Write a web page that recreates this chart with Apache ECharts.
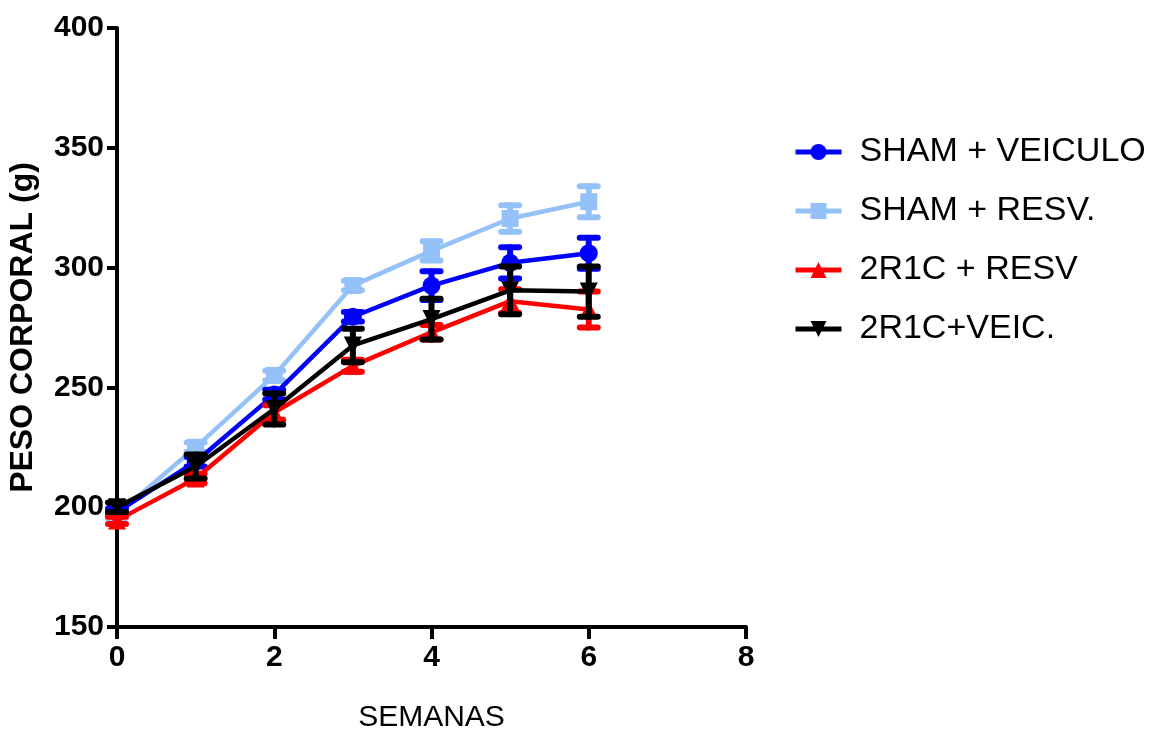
<!DOCTYPE html>
<html>
<head>
<meta charset="utf-8">
<script src="https://cdn.jsdelivr.net/npm/echarts@6/dist/echarts.min.js"></script>
<style>html,body{margin:0;padding:0;background:#fff;}#c{width:1157px;height:738px;}</style>
</head>
<body>
<div id="c"></div>
<script>
var weeks = [0, 1, 2, 3, 4, 5, 6];
var seriesNames = ['SHAM + VEICULO', 'SHAM + RESV.', '2R1C + RESV', '2R1C+VEIC.'];
var shamVeic = [198, 219, 247, 279.5, 292.5, 302, 306];
var shamVeicErr = [1.5, 2, 2, 2, 6, 6.5, 6.5];
var shamResv = [197, 225, 255, 292.5, 307, 320.5, 327.5];
var shamResvErr = [1.5, 2, 2, 2, 4, 5.5, 6.5];
var r2Resv = [194.5, 212, 239.5, 259, 273, 286, 282.5];
var r2ResvErr = [1.5, 2, 3, 2.5, 3, 5, 7.5];
var r2Veic = [200, 217, 241, 267.5, 278.5, 290.5, 290];
var r2VeicErr = [2, 5, 6.5, 7, 8.5, 10, 10.5];
var yTicks = [150, 200, 250, 300, 350, 400];
var xTicks = [0, 2, 4, 6, 8];

var colors = ['#0000ff', '#94c2f8', '#ff0000', '#000000'];
var symbols = ['circle', 'rect', 'triangle', 'path://M0,0 L10,0 L5,10 Z'];
var vals = [shamVeic, shamResv, r2Resv, r2Veic];
var errs = [shamVeicErr, shamResvErr, r2ResvErr, r2VeicErr];
var zs = [3, 2, 4, 5];

var chart = echarts.init(document.getElementById('c'));
var series = [];
vals.forEach(function (v, i) {
  series.push({
    name: seriesNames[i],
    type: 'line',
    data: weeks.map(function (w, k) { return [w, v[k]]; }),
    symbol: symbols[i],
    symbolSize: i === 1 ? 17 : 18,
    lineStyle: { color: colors[i], width: 4.5 },
    itemStyle: { color: colors[i] },
    z: zs[i],
    silent: true
  });
  series.push({
    name: seriesNames[i],
    type: 'custom',
    z: zs[i],
    silent: true,
    data: weeks.map(function (w, k) { return [w, v[k] - errs[i][k], v[k] + errs[i][k]]; }),
    encode: { x: 0, y: [1, 2] },
    renderItem: function (params, api) {
      var lo = api.coord([api.value(0), api.value(1)]);
      var hi = api.coord([api.value(0), api.value(2)]);
      var hw = 9;
      var st = { stroke: colors[i], lineWidth: 6, lineCap: 'round' };
      return {
        type: 'group',
        children: [
          { type: 'line', shape: { x1: lo[0], y1: lo[1], x2: hi[0], y2: hi[1] }, style: st },
          { type: 'line', shape: { x1: lo[0] - hw, y1: lo[1], x2: lo[0] + hw, y2: lo[1] }, style: st },
          { type: 'line', shape: { x1: hi[0] - hw, y1: hi[1], x2: hi[0] + hw, y2: hi[1] }, style: st }
        ]
      };
    }
  });
});

chart.setOption({
  animation: false,
  backgroundColor: '#fff',
  grid: { left: 117, top: 28, right: 411, bottom: 111, containLabel: false, outerBoundsMode: 'none' },
  legend: {
    data: seriesNames,
    orient: 'vertical',
    left: 788,
    top: 129,
    itemWidth: 46,
    itemHeight: 20,
    itemGap: 23,
    lineStyle: { width: 5 },
    textStyle: { fontFamily: 'Liberation Sans, Arial, sans-serif', fontSize: 34, color: '#000', lineHeight: 36, padding: [0, 0, 0, 13] }
  },
  xAxis: {
    type: 'value',
    min: 0, max: 8, interval: 2,
    name: 'SEMANAS',
    nameLocation: 'middle',
    nameGap: 76,
    nameTextStyle: { fontFamily: 'Liberation Sans, Arial, sans-serif', fontSize: 30, color: '#000' },
    axisLine: { onZero: false, lineStyle: { color: '#000', width: 4 } },
    axisTick: { show: true, length: 12, inside: false, lineStyle: { color: '#000', width: 4 } },
    axisLabel: { margin: 16, fontFamily: 'Liberation Sans, Arial, sans-serif', fontWeight: 'bold', fontSize: 30, color: '#000' },
    splitLine: { show: false }
  },
  yAxis: {
    type: 'value',
    min: 150, max: 400, interval: 50,
    name: 'PESO CORPORAL (g)',
    nameLocation: 'middle',
    nameGap: 78,
    nameTextStyle: { fontFamily: 'Liberation Sans, Arial, sans-serif', fontWeight: 'bold', fontSize: 32, color: '#000' },
    axisLine: { onZero: false, lineStyle: { color: '#000', width: 4 } },
    axisTick: { show: true, length: 10, lineStyle: { color: '#000', width: 4 } },
    axisLabel: { margin: 13, fontFamily: 'Liberation Sans, Arial, sans-serif', fontWeight: 'bold', fontSize: 30, color: '#000' },
    splitLine: { show: false }
  },
  series: series
});
</script>
</body>
</html>
